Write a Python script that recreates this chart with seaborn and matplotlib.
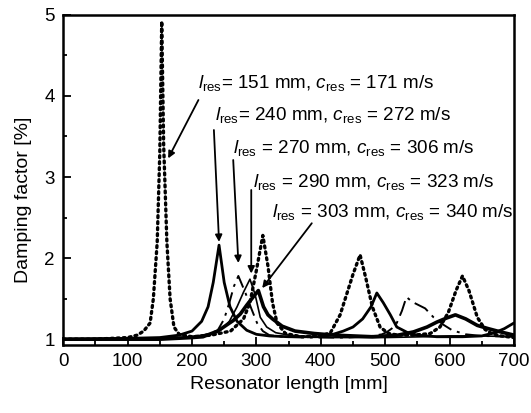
import numpy as np
import matplotlib
matplotlib.use('Agg')
import matplotlib.pyplot as plt
import seaborn as sns
from matplotlib.ticker import MultipleLocator

# resonator length [mm] and damping factor [%]
x151 = [0, 50, 100, 115, 125, 135, 140, 146, 150, 153, 156, 161, 166, 172, 180, 200, 230, 260, 280,
        290, 300, 310, 318, 325, 332, 345, 370, 400, 415, 430, 440, 450, 461, 470, 480, 492, 505, 520,
        545, 570, 585, 598, 610, 620, 630, 643, 655, 665, 680, 700]
y151 = [1.0, 1.0, 1.02, 1.05, 1.1, 1.2, 1.5, 2.2, 3.3, 4.92, 3.4, 2.2, 1.5, 1.15, 1.06, 1.03, 1.05, 1.1, 1.25,
        1.45, 1.85, 2.28, 1.9, 1.45, 1.2, 1.07, 1.03, 1.04, 1.08, 1.3, 1.55, 1.8, 2.04, 1.75, 1.4, 1.15, 1.07, 1.05,
        1.05, 1.07, 1.15, 1.33, 1.6, 1.78, 1.6, 1.27, 1.12, 1.07, 1.04, 1.02]

x240 = [0, 100, 150, 180, 200, 215, 225, 233, 242, 250, 259, 270, 285, 300, 320, 350, 400, 415, 435, 450,
        465, 478, 487, 497, 508, 518, 535, 550, 580, 620, 650, 670, 685, 700]
y240 = [1.0, 1.01, 1.02, 1.05, 1.1, 1.22, 1.4, 1.7, 2.16, 1.7, 1.4, 1.22, 1.11, 1.06, 1.04, 1.03, 1.03, 1.05, 1.1, 1.15,
        1.25, 1.4, 1.57, 1.45, 1.3, 1.15, 1.08, 1.05, 1.03, 1.03, 1.04, 1.08, 1.13, 1.2]

x270 = [0, 150, 200, 225, 240, 250, 258, 265, 272, 283, 292, 301, 310, 320, 340, 380, 440, 480, 495, 503,
        510, 518, 526, 533, 542, 562, 575, 590, 604, 625, 650, 700]
y270 = [1.0, 1.01, 1.03, 1.06, 1.11, 1.25, 1.45, 1.65, 1.78, 1.57, 1.38, 1.2, 1.1, 1.05, 1.03, 1.02, 1.02, 1.04, 1.06, 1.09,
        1.13, 1.2, 1.35, 1.52, 1.46, 1.38, 1.27, 1.18, 1.11, 1.06, 1.04, 1.03]

x290 = [0, 150, 200, 230, 244, 258, 270, 280, 290, 298, 306, 316, 330, 350, 380, 420, 500, 560, 600, 650, 700]
y290 = [1.0, 1.01, 1.03, 1.07, 1.11, 1.22, 1.4, 1.58, 1.74, 1.55, 1.27, 1.15, 1.08, 1.05, 1.03, 1.02, 1.02, 1.03, 1.04, 1.04, 1.03]

x303 = [0, 150, 200, 217, 240, 264, 275, 285, 295, 303, 311, 318, 325, 340, 360, 390, 420, 480, 520, 544,
        565, 580, 595, 609, 625, 643, 660, 679, 700]
y303 = [1.0, 1.0, 1.02, 1.03, 1.1, 1.23, 1.31, 1.42, 1.52, 1.6, 1.4, 1.3, 1.25, 1.16, 1.1, 1.07, 1.05, 1.03, 1.05, 1.09,
        1.15, 1.21, 1.26, 1.3, 1.25, 1.17, 1.13, 1.09, 1.05]

labels = [r'$l_{\mathrm{res}}$= 151 mm, $c_{\mathrm{res}}$ = 171 m/s',
          r'$l_{\mathrm{res}}$= 240 mm, $c_{\mathrm{res}}$ = 272 m/s',
          r'$l_{\mathrm{res}}$ = 270 mm, $c_{\mathrm{res}}$ = 306 m/s',
          r'$l_{\mathrm{res}}$ = 290 mm, $c_{\mathrm{res}}$ = 323 m/s',
          r'$l_{\mathrm{res}}$ = 303 mm, $c_{\mathrm{res}}$ = 340 m/s']
label_pos = [(210, 4.10), (236, 3.70), (264, 3.30), (295, 2.88), (324, 2.51)]
arrow_tail = [(210, 3.95), (234, 3.58), (264, 3.21), (292, 2.84), (386, 2.43)]
arrow_tip = [(163, 3.23), (242, 2.2), (272, 1.94), (292, 1.81), (309, 1.63)]

sns.set_style('ticks')
plt.rcParams['font.family'] = ['Liberation Sans', 'DejaVu Sans']
plt.rcParams['mathtext.fontset'] = 'custom'
plt.rcParams['mathtext.rm'] = 'Liberation Sans'
plt.rcParams['mathtext.it'] = 'Liberation Sans:italic'
for key in ['text.color', 'axes.labelcolor', 'xtick.color', 'ytick.color', 'axes.edgecolor']:
    plt.rcParams[key] = 'black'

fig = plt.figure(figsize=(5.31, 4.13), dpi=100)
ax = fig.add_axes([0.119, 0.165, 0.849, 0.799])

sns.lineplot(x=x151, y=y151, ax=ax, color='black', lw=2.4, linestyle=(0, (0.6, 1.2)),
             dash_capstyle='round')
sns.lineplot(x=x240, y=y240, ax=ax, color='black', lw=2.0)
sns.lineplot(x=x270, y=y270, ax=ax, color='black', lw=1.4, linestyle=(0, (8, 3, 1.5, 3)))
sns.lineplot(x=x290, y=y290, ax=ax, color='black', lw=1.2)
sns.lineplot(x=x303, y=y303, ax=ax, color='black', lw=2.6)

for txt, pos in zip(labels, label_pos):
    ax.text(pos[0], pos[1], txt, fontsize=13.6, ha='left', va='baseline')
for tail, tip in zip(arrow_tail, arrow_tip):
    ax.annotate('', xy=tip, xytext=tail,
                arrowprops=dict(arrowstyle='-|>', color='black', lw=1.3, mutation_scale=10,
                                shrinkA=0, shrinkB=0))

ax.set_xlim(0, 700)
ax.set_ylim(0.93, 5.0)
ax.xaxis.set_major_locator(MultipleLocator(100))
ax.xaxis.set_minor_locator(MultipleLocator(50))
ax.yaxis.set_major_locator(MultipleLocator(1))
ax.yaxis.set_minor_locator(MultipleLocator(0.5))
ax.tick_params(which='both', direction='in', top=False, right=False, labelsize=13.5, width=1.3)
ax.tick_params(which='major', length=6, pad=6)
ax.tick_params(which='minor', length=3)
for s in ax.spines.values():
    s.set_linewidth(1.8)

ax.set_xlabel('Resonator length [mm]', fontsize=14)
ax.set_ylabel('Damping factor [%]', fontsize=14)
ax.yaxis.set_label_coords(-0.069, 0.44)

fig.savefig('out.png', dpi=100)
